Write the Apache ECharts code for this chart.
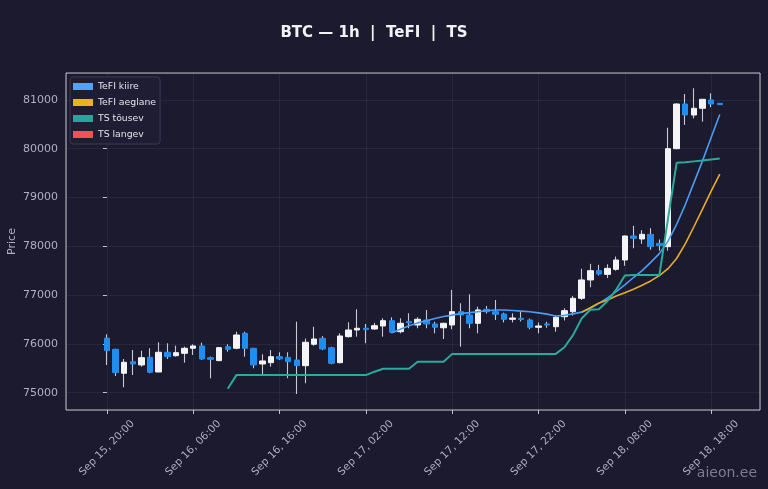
<!DOCTYPE html>
<html><head><meta charset="utf-8">
<script src="https://cdn.jsdelivr.net/npm/echarts@6/dist/echarts.min.js"></script>
<style>html,body{margin:0;padding:0;background:#1b1a2e;}#c{width:768px;height:489px;}</style>
</head><body><div id="c"></div>
<script>
// hours since Sep 15, 20:00 (hourly candles, index 0..71)
const tickLabels = ['Sep 15, 20:00','Sep 16, 06:00','Sep 16, 16:00','Sep 17, 02:00','Sep 17, 12:00','Sep 17, 22:00','Sep 18, 08:00','Sep 18, 18:00'];
const openP  = [76119,75889,75398,75635,75568,75725,75424,75828,75758,75807,75910,75957,75717,75656,75943,75910,76217,75910,75588,75615,75738,75725,75670,75553,75992,76115,75922,75615,76148,76285,76320,76305,76367,76475,76250,76460,76387,76490,76408,76330,76387,76660,76592,76422,76709,76660,76613,76504,76525,76490,76340,76408,76352,76557,76660,76934,77310,77500,77425,77528,77719,78211,78150,78245,78061,77992,80000,80916,80690,80828,80998,80930];
const closeP = [75861,75410,75623,75588,75717,75418,75828,75738,75820,75910,75957,75691,75684,75922,75889,76182,75910,75568,75650,75738,75691,75635,75553,76033,76100,75895,75602,76162,76285,76320,76291,76373,76475,76238,76422,76430,76504,76408,76340,76422,76660,76592,76422,76695,76660,76607,76504,76530,76500,76340,76367,76387,76545,76680,76934,77310,77500,77432,77548,77719,78211,78164,78245,77992,78012,80000,80916,80690,80828,81012,80916,80902];
const lowP   = [75568,75342,75111,75363,75533,75398,75424,75691,75738,75615,75773,75670,75295,75650,75840,75890,75738,75500,75383,75533,75670,75295,74973,75193,75963,75870,75580,75600,76130,76148,76012,76290,76148,76217,76217,76320,76320,76320,76217,76100,76300,75943,76320,76217,76620,76490,76440,76440,76460,76300,76217,76330,76250,76480,76580,76900,77160,77400,77350,77500,77600,77960,78050,77930,77910,77910,79990,80486,80620,80553,80850,80902];
const highP  = [76197,75900,75691,75875,75861,75910,76033,76012,75963,75943,75992,76025,75740,75930,75992,76250,76250,75920,75787,75875,75828,75828,76455,76110,76352,76160,75940,76217,76443,76709,76408,76430,76525,76545,76525,76627,76545,76695,76455,76430,77105,76832,77016,76762,76777,76900,76640,76627,76660,76520,76440,76455,76590,76730,76980,77540,77640,77620,77630,77790,78220,78420,78330,78370,78140,80430,80930,81120,81238,81020,81135,80930];
const pad = n => Array(n).fill(null);
const tefiKiire = [...pad(33),
  76230,76300,76370,76430,76475,76520,76560,76590,76620,76640,76660,76680,76693,76695,76685,76672,76658,76635,76610,76570,
  76585,76615,76650,76730,76830,76940,77070,77210,77360,77500,77670,77850,78100,78450,78850,79300,79750,80230,80700];
const tefiAeglane = [...pad(55),
  76650,76740,76840,76900,76980,77050,77120,77200,77290,77400,77540,77750,78050,78400,78760,79130,79480];
const tsTousev = [...pad(14),
  75080,75360,75360,75360,75360,75360,75360,75360,75360,75360,75360,75360,75360,75360,75360,75360,75360,
  75430,75490,75490,75490,75490,75635,75635,75635,75635,
  75795,75795,75795,75795,75795,75795,75795,75795,75795,75795,75795,75795,75795,
  75930,76180,76520,76700,76710,76880,77110,77400,77410,77410,77410,77410,78560,79710,79720,79740,79760,79780,79800];
const tsLangev = [];

const ohlc = openP.map((o, i) => [i, o, closeP[i], lowP[i], highP[i]]);
const bodies = openP.map((o, i) => [i, o, closeP[i], Math.min(o, closeP[i]), Math.max(o, closeP[i])]);
const toPairs = arr => arr.map((v, i) => [i, v]);

const FONT = 'DejaVu Sans';
const GREY = '#b0b0c2';
const WICK = '#c9c9d3';
const UP = '#f4f4f6';
const DOWN = '#1f8ef1';

const chart = echarts.init(document.getElementById('c'), null, {renderer: 'canvas'});
chart.setOption({
  backgroundColor: '#1b1a2e',
  animation: false,
  graphic: [
    {type: 'text', x: 374, y: 33, z: 10, style: {text: 'BTC — 1h  |  TeFI  |  TS', fill: '#f2f2f6', font: 'bold 15px "DejaVu Sans"', align: 'center', verticalAlign: 'middle', textAlign: 'center', textVerticalAlign: 'middle'}},
    {type: 'text', x: 757, y: 473, z: 10, style: {text: 'aieon.ee', fill: 'rgba(190,190,205,0.6)', font: '14px "DejaVu Sans"', align: 'right', verticalAlign: 'middle', textAlign: 'right', textVerticalAlign: 'middle'}}
  ],
  legend: {
    orient: 'vertical', left: 70, top: 77,
    data: ['TeFI kiire', 'TeFI aeglane', 'TS tõusev', 'TS langev'],
    icon: 'rect', itemWidth: 20, itemHeight: 7, itemGap: 7,
    padding: [5, 4, 5, 3],
    backgroundColor: '#1e1d33', borderColor: '#3a3a54', borderWidth: 1, borderRadius: 3,
    textStyle: {color: '#e2e2ea', fontSize: 9.3, fontFamily: FONT},
    selectedMode: false
  },
  grid: {left: 66, right: 8, top: 73, bottom: 79, containLabel: false, outerBoundsMode: 'none',
         show: true, borderColor: '#c2c2ce', borderWidth: 1, backgroundColor: 'transparent'},
  xAxis: {
    type: 'value', min: -4.74, max: 75.66, minInterval: 10, maxInterval: 10,
    axisLine: {show: false},
    axisTick: {show: true, length: 4, lineStyle: {color: '#c2c2ce'}},
    splitLine: {show: true, lineStyle: {color: 'rgba(255,255,255,0.06)', width: 1}},
    axisLabel: {
      rotate: 45, align: 'center', verticalAlign: 'middle', margin: 38,
      color: GREY, fontSize: 10.5, fontFamily: FONT,
      showMinLabel: false, showMaxLabel: false,
      formatter: v => { const k = Math.round(v / 10); return (Math.abs(v - k * 10) < 1e-6 && tickLabels[k]) ? tickLabels[k] : ''; }
    }
  },
  yAxis: {
    type: 'value', min: 74645, max: 81551, minInterval: 1000, maxInterval: 1000, scale: true,
    name: 'Price', nameLocation: 'middle', nameGap: 48, nameRotate: 90, nameMoveOverlap: false,
    nameTextStyle: {color: GREY, fontSize: 11, fontFamily: FONT},
    axisLine: {show: false},
    axisTick: {show: true, length: 4, lineStyle: {color: '#c2c2ce'}},
    splitLine: {show: true, lineStyle: {color: 'rgba(255,255,255,0.06)', width: 1}},
    axisLabel: {
      color: GREY, fontSize: 11, fontFamily: FONT, margin: 8,
      showMinLabel: false, showMaxLabel: false,
      formatter: v => (Math.abs(v % 1000) < 1e-6 ? String(v) : '')
    }
  },
  series: [
    {type: 'candlestick', name: 'wicks', data: ohlc, encode: {x: 0, y: [1, 2, 3, 4]}, barWidth: 0.01,
     itemStyle: {color: WICK, color0: WICK, borderColor: WICK, borderColor0: WICK, borderWidth: 1.1}, z: 2, silent: true},
    {type: 'candlestick', name: 'bodies', data: bodies, encode: {x: 0, y: [1, 2, 3, 4]}, barWidth: 6,
     itemStyle: {color: UP, color0: DOWN, borderColor: UP, borderColor0: DOWN, borderWidth: 1}, z: 3, silent: true},
    {type: 'line', name: 'TeFI kiire', data: toPairs(tefiKiire), showSymbol: false, symbol: 'none', smooth: false,
     color: '#4da3ff', lineStyle: {color: '#4a9cf5', width: 1.6}, z: 4},
    {type: 'line', name: 'TeFI aeglane', data: toPairs(tefiAeglane), showSymbol: false, symbol: 'none',
     color: '#f0b21c', lineStyle: {color: '#e8ad22', width: 1.6}, z: 4},
    {type: 'line', name: 'TS tõusev', data: toPairs(tsTousev), showSymbol: false, symbol: 'none',
     color: '#26a69a', lineStyle: {color: '#28ab9b', width: 2}, z: 5},
    {type: 'line', name: 'TS langev', data: toPairs(tsLangev), showSymbol: false, symbol: 'none',
     color: '#ef5350', lineStyle: {color: '#ef5350', width: 2}, z: 5}
  ]
});
</script></body></html>
